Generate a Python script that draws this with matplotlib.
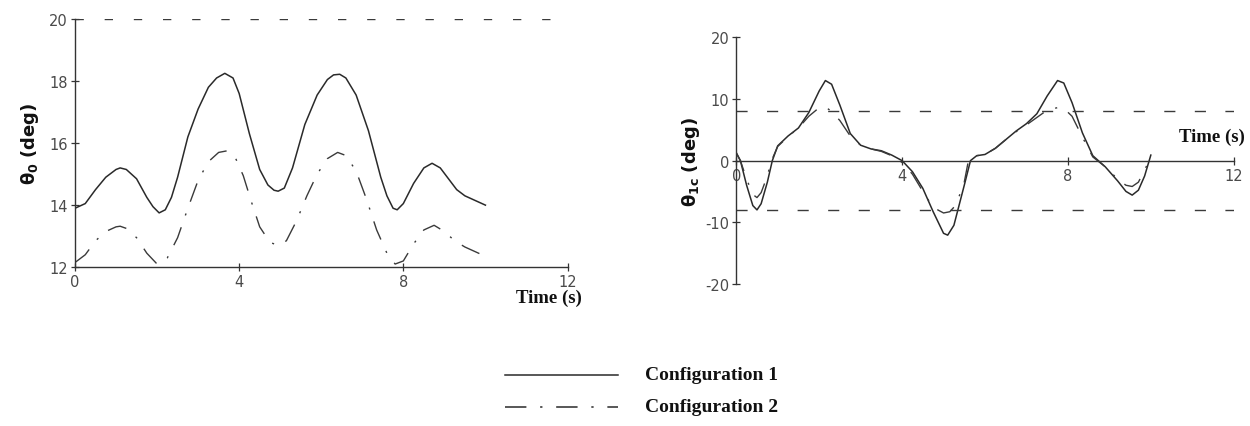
import matplotlib
matplotlib.use("Agg")
import matplotlib.pyplot as plt

# ---------------- data ----------------
t1_left = [0.0, 0.25, 0.5, 0.75, 1.0, 1.1, 1.25, 1.5, 1.75, 1.9, 2.05, 2.2, 2.35, 2.5, 2.75, 3.0, 3.25,
           3.45, 3.65, 3.85, 4.0, 4.25, 4.5, 4.7, 4.85, 4.95, 5.1, 5.3, 5.6, 5.9, 6.15, 6.3, 6.45, 6.6,
           6.85, 7.15, 7.45, 7.6, 7.75, 7.85, 8.0, 8.25, 8.5, 8.7, 8.9, 9.1, 9.3, 9.5, 9.75, 10.0]
cfg1_left = [13.9, 14.05, 14.5, 14.9, 15.15, 15.2, 15.15, 14.85, 14.25, 13.95, 13.75, 13.85, 14.25, 14.9, 16.2, 17.1, 17.8,
             18.1, 18.25, 18.1, 17.6, 16.3, 15.15, 14.65, 14.48, 14.45, 14.55, 15.2, 16.6, 17.55, 18.05, 18.2, 18.22, 18.1,
             17.55, 16.4, 14.9, 14.3, 13.9, 13.85, 14.05, 14.7, 15.2, 15.35, 15.2, 14.85, 14.5, 14.3, 14.15, 14.0]

t2_left = [0.0, 0.25, 0.5, 0.75, 1.0, 1.1, 1.25, 1.5, 1.75, 2.0, 2.25, 2.5, 2.75, 3.0, 3.25,
           3.5, 3.7, 3.9, 4.1, 4.3, 4.5, 4.75, 4.95, 5.15, 5.4, 5.65, 5.9, 6.15, 6.4, 6.6,
           6.85, 7.1, 7.35, 7.6, 7.8, 8.0, 8.25, 8.5, 8.75, 9.0, 9.25, 9.5, 9.75, 10.0]
cfg2_left = [12.15, 12.4, 12.85, 13.15, 13.3, 13.32, 13.25, 12.95, 12.45, 12.1, 12.3, 12.95, 13.9, 14.8, 15.4,
             15.7, 15.75, 15.55, 14.95, 14.1, 13.3, 12.8, 12.7, 12.85, 13.5, 14.3, 15.0, 15.5, 15.7, 15.6,
             15.1, 14.2, 13.2, 12.45, 12.1, 12.2, 12.75, 13.2, 13.35, 13.15, 12.85, 12.65, 12.5, 12.35]

t1_right = [0.0, 0.1, 0.25, 0.4, 0.5, 0.6, 0.75, 0.87, 1.0, 1.25, 1.5, 1.75, 2.0, 2.15, 2.3,
            2.5, 2.75, 3.0, 3.25, 3.5, 3.75, 4.0, 4.25, 4.5, 4.75, 5.0, 5.1, 5.25, 5.5, 5.65,
            5.8, 6.0, 6.25, 6.5, 6.75, 7.0, 7.25, 7.5, 7.75, 7.9, 8.1, 8.35, 8.6, 8.9, 9.2,
            9.4, 9.55, 9.7, 9.85, 10.0]
cfg1_right = [1.3, 0.0, -4.0, -7.3, -8.0, -7.0, -3.5, 0.0, 2.4, 4.0, 5.3, 7.8, 11.3, 13.0, 12.4,
              9.0, 4.4, 2.5, 1.9, 1.6, 0.9, 0.0, -1.8, -4.5, -8.3, -11.8, -12.1, -10.5, -4.0, 0.0,
              0.8, 1.0, 2.0, 3.4, 4.8, 6.0, 7.6, 10.5, 13.0, 12.6, 9.4, 4.5, 0.8, -1.0, -3.3,
              -5.0, -5.6, -4.8, -2.5, 0.9]

t2_right = [0.0, 0.1, 0.25, 0.4, 0.5, 0.6, 0.75, 0.85, 1.0, 1.25, 1.5, 1.75, 2.0, 2.15, 2.3,
            2.5, 2.75, 3.0, 3.25, 3.5, 3.75, 4.0, 4.25, 4.5, 4.75, 5.0, 5.15, 5.3, 5.5, 5.6,
            5.8, 6.0, 6.25, 6.5, 6.75, 7.0, 7.25, 7.5, 7.75, 7.9, 8.1, 8.35, 8.6, 8.9, 9.2,
            9.4, 9.55, 9.7, 9.85, 10.0]
cfg2_right = [1.2, 0.0, -3.0, -5.5, -6.0, -5.2, -2.5, 0.0, 2.3, 3.9, 5.3, 7.2, 8.6, 8.7, 8.0,
              6.5, 4.0, 2.5, 1.9, 1.5, 0.8, -0.3, -2.2, -5.0, -7.6, -8.5, -8.3, -7.2, -3.5, 0.0,
              0.8, 1.0, 2.0, 3.4, 4.7, 5.8, 7.0, 8.2, 8.6, 8.5, 7.2, 3.8, 0.6, -1.0, -3.0,
              -4.0, -4.2, -3.5, -1.5, 0.5]

limit_left = [20]
limit_right = [8, -8]
x_ticks = [0, 4, 8, 12]
y_ticks_left = [12, 14, 16, 18, 20]
y_ticks_right = [-20, -10, 0, 10, 20]
legend_labels = ["Configuration 1", "Configuration 2"]

# ---------------- style ----------------
LINE_C = "#2a2a2a"
DASH_C = "#3a3a3a"
DASHDOT = (0, (14, 9, 1.5, 9))
LIMIT_L = (0, (6, 15))
LIMIT_R = (0, (8, 14))
TICK_FONT = dict(family="DejaVu Sans", size=10.5, color="#4a4a4a")
SERIF_TIME = dict(family="Liberation Serif", weight="bold", size=13.5, color="#111111")
SERIF_LEG = dict(family="Liberation Serif", weight="bold", size=14, color="#111111")

fig = plt.figure(figsize=(12.5, 4.27), dpi=100)

def style_axes(ax):
    for s in ["top", "right"]:
        ax.spines[s].set_visible(False)
    for s in ["left", "bottom"]:
        ax.spines[s].set_color("#333333")
        ax.spines[s].set_linewidth(1.0)
    ax.tick_params(direction="inout", length=6, width=0.9, color="#333333")
    for lab in ax.get_xticklabels() + ax.get_yticklabels():
        lab.set_fontfamily(TICK_FONT["family"])
        lab.set_fontsize(TICK_FONT["size"])
        lab.set_color(TICK_FONT["color"])

# ---- left panel ----
axL = fig.add_axes([0.06, 0.372, 0.394, 0.581])
axL.plot(t1_left, cfg1_left, color=LINE_C, lw=1.1, solid_joinstyle="round")
axL.plot(t2_left, cfg2_left, color=DASH_C, lw=1.0, linestyle=DASHDOT)
for v in limit_left:
    axL.axhline(v, xmin=0, xmax=1, color=DASH_C, lw=1.0, linestyle=LIMIT_L)
axL.set_xlim(0, 12)
axL.set_ylim(12, 20)
axL.set_xticks(x_ticks)
axL.set_yticks(y_ticks_left)
axL.set_xticklabels([str(v) for v in x_ticks])
axL.set_yticklabels([str(v) for v in y_ticks_left])
axL.tick_params(axis="y", pad=2)
axL.tick_params(axis="x", pad=2)
style_axes(axL)
axL.set_ylabel(r"$\mathbf{\theta_0}$ $\mathbf{(deg)}$", fontsize=13, color="#111111", labelpad=6)
fig.text(549 / 1250, 1 - 298 / 427, "Time (s)", ha="center", va="center", **SERIF_TIME)

# ---- right panel ----
axR = fig.add_axes([0.589, 0.333, 0.398, 0.577])
axR.plot(t1_right, cfg1_right, color=LINE_C, lw=1.1, solid_joinstyle="round")
axR.plot(t2_right, cfg2_right, color=DASH_C, lw=1.0, linestyle=DASHDOT)
for v in limit_right:
    axR.axhline(v, xmin=0, xmax=1, color=DASH_C, lw=1.0, linestyle=LIMIT_R)
axR.set_xlim(0, 12)
axR.set_ylim(-20, 20)
axR.spines["bottom"].set_position(("data", 0))
axR.set_xticks(x_ticks)
axR.set_yticks(y_ticks_right)
axR.set_xticklabels([str(v) for v in x_ticks])
axR.set_yticklabels([str(v) for v in y_ticks_right])
axR.tick_params(axis="y", pad=2)
axR.tick_params(axis="x", pad=2)
style_axes(axR)
axR.set_ylabel(r"$\mathbf{\theta_{1c}}$ $\mathbf{(deg)}$", fontsize=13, color="#111111", labelpad=2)
fig.text(1212 / 1250, 1 - 137 / 427, "Time (s)", ha="center", va="center", **SERIF_TIME)

# ---- legend (drawn manually at figure level) ----
styles = ["-", DASHDOT]
ys = [1 - 376 / 427, 1 - 408 / 427]
for lbl, ls, y in zip(legend_labels, styles, ys):
    fig.add_artist(plt.Line2D([505 / 1250, 618 / 1250], [y, y], color=LINE_C, lw=1.1,
                              linestyle=ls, transform=fig.transFigure))
    fig.text(645 / 1250, y, lbl, ha="left", va="center", **SERIF_LEG)

fig.savefig("out.png", dpi=100, facecolor="white")
